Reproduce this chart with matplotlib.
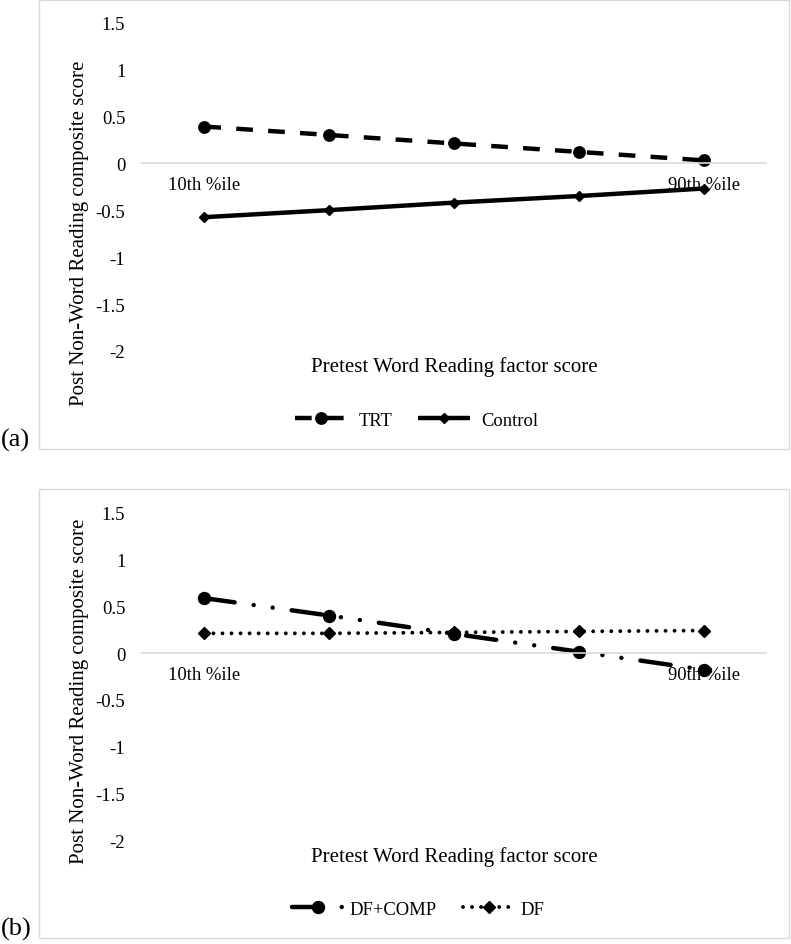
import matplotlib
matplotlib.use("Agg")
import matplotlib.pyplot as plt
from matplotlib.patches import Rectangle

plt.rcParams['font.family'] = ['Liberation Serif', 'DejaVu Serif']
plt.rcParams['axes.unicode_minus'] = False
plt.rcParams['lines.scale_dashes'] = False

# data
x_labels = ['10th %ile', '', '', '', '90th %ile']
y_ticks = [-2, -1.5, -1, -0.5, 0, 0.5, 1, 1.5]
y_tick_labels = ['-2', '-1.5', '-1', '-0.5', '0', '0.5', '1', '1.5']

trt = [0.39, 0.30, 0.21, 0.12, 0.03]
control = [-0.575, -0.50, -0.42, -0.35, -0.27]

df_comp = [0.585, 0.40, 0.205, 0.014, -0.177]
df_only = [0.21, 0.21, 0.22, 0.23, 0.24]

W, H = 791, 945
fig = plt.figure(figsize=(W / 100, H / 100), dpi=100)


def px_box(left, top, right, bottom):
    return [left / W, 1 - bottom / H, (right - left) / W, (bottom - top) / H]


def panel(top_1p5, bot_m2, frame_top, frame_bot, letter, ylab_y, xlab_y):
    fig.add_artist(Rectangle((39 / W, 1 - frame_bot / H), 750 / W, (frame_bot - frame_top) / H,
                             transform=fig.transFigure, fill=False,
                             edgecolor='#d9d9d9', lw=1))
    ax = fig.add_axes(px_box(142, top_1p5, 766, bot_m2))
    ax.set_xlim(-0.5, 4.5)
    ax.set_ylim(-2, 1.5)
    for s in ['left', 'right', 'top']:
        ax.spines[s].set_visible(False)
    ax.spines['bottom'].set_position(('data', 0))
    ax.spines['bottom'].set_color('#d9d9d9')
    ax.spines['bottom'].set_linewidth(1.2)
    ax.set_xticks(range(len(x_labels)))
    ax.set_xticklabels(x_labels, fontsize=13.4)
    ax.set_yticks(y_ticks)
    ax.set_yticklabels(y_tick_labels, fontsize=13.4)
    ax.tick_params(axis='both', length=0)
    ax.tick_params(axis='y', pad=12)
    ax.tick_params(axis='x', pad=9)
    ax.patch.set_alpha(0)
    fig.text(80 / W, 1 - ylab_y / H, 'Post Non-Word Reading composite score',
             rotation=90, ha='center', va='center', fontsize=15)
    fig.text(454 / W, 1 - xlab_y / H, 'Pretest Word Reading factor score',
             ha='center', va='center', fontsize=15)
    fig.text(1 / W, 1 - (frame_bot - 10) / H, letter, ha='left', va='center', fontsize=19)
    return ax


# panel (a)
ax1 = panel(23.3, 352, 1, 450, '(a)', 233, 367)
ax1.plot(range(5), trt, color='black', lw=3.2, dashes=(12, 11),
         marker='o', ms=8.2, label='TRT')
ax1.plot(range(5), control, color='black', lw=3.2, solid_capstyle='butt',
         marker='D', ms=5.6, label='Control')
fig.legend(*ax1.get_legend_handles_labels(), loc='center',
           bbox_to_anchor=(417 / W, 1 - 421 / H), ncol=2, frameon=False,
           fontsize=13.4, handlelength=2.8, handletextpad=0.6, columnspacing=1.4)

# panel (b)
ax2 = panel(513.3, 841.7, 490, 939, '(b)', 691, 857)
ax2.plot(range(5), df_comp, color='black', lw=3.2, dash_capstyle='round',
         dashes=(22, 13.8, 0.01, 13.8, 0.01, 13.8),
         marker='o', ms=8.6, label='DF+COMP')
ax2.plot(range(5), df_only, color='black', lw=2.8, dash_capstyle='round',
         dashes=(0.01, 6.5), marker='D', ms=6.2, label='DF')
fig.legend(*ax2.get_legend_handles_labels(), loc='center',
           bbox_to_anchor=(418 / W, 1 - 910 / H), ncol=2, frameon=False,
           fontsize=13.4, handlelength=2.8, handletextpad=0.3, columnspacing=1.4)

fig.savefig('out.png', dpi=100)
